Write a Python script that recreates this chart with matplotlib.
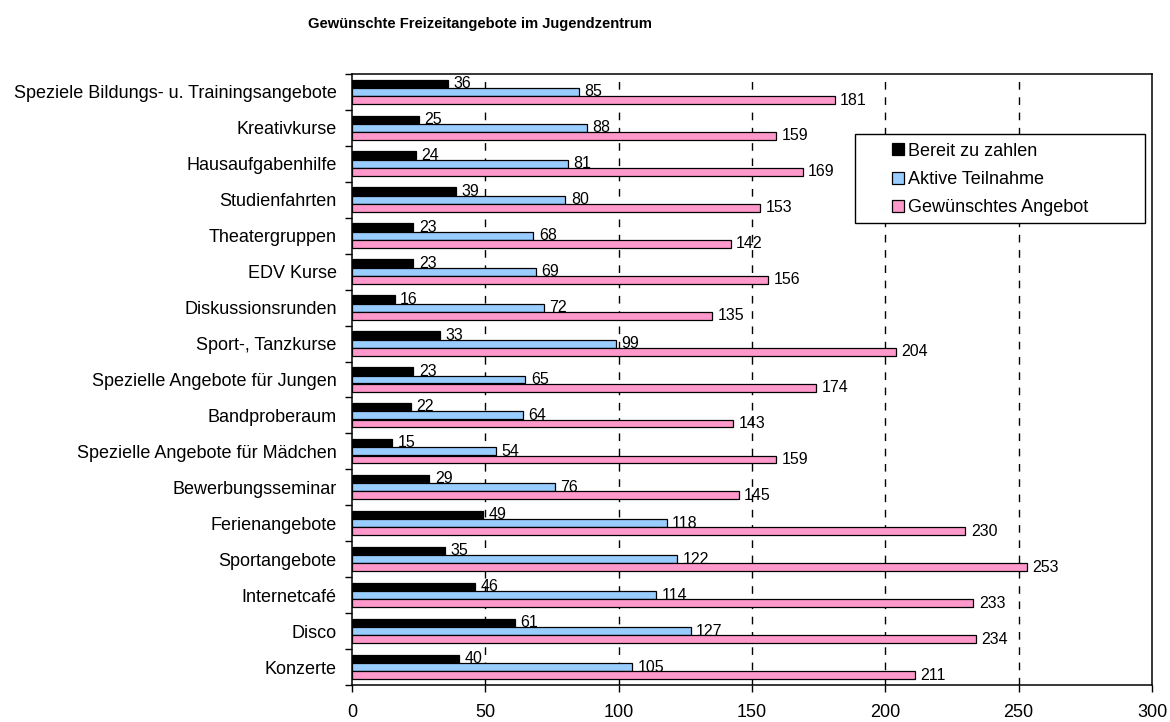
import matplotlib
matplotlib.use('Agg')
import matplotlib.pyplot as plt
import numpy as np
from matplotlib.patches import Rectangle

plt.rcParams['font.family'] = ['Liberation Sans', 'DejaVu Sans']

# Categories, listed top to bottom as in the chart
categories = [
    'Speziele Bildungs- u. Trainingsangebote',
    'Kreativkurse',
    'Hausaufgabenhilfe',
    'Studienfahrten',
    'Theatergruppen',
    'EDV Kurse',
    'Diskussionsrunden',
    'Sport-, Tanzkurse',
    'Spezielle Angebote für Jungen',
    'Bandproberaum',
    'Spezielle Angebote für Mädchen',
    'Bewerbungsseminar',
    'Ferienangebote',
    'Sportangebote',
    'Internetcafé',
    'Disco',
    'Konzerte',
]
bereit = [36, 25, 24, 39, 23, 23, 16, 33, 23, 22, 15, 29, 49, 35, 46, 61, 40]
aktiv = [85, 88, 81, 80, 68, 69, 72, 99, 65, 64, 54, 76, 118, 122, 114, 127, 105]
gewuenscht = [181, 159, 169, 153, 142, 156, 135, 204, 174, 143, 159, 145, 230, 253, 233, 234, 211]

series_names = ['Bereit zu zahlen', 'Aktive Teilnahme', 'Gewünschtes Angebot']
colors = ['#000000', '#99CCFF', '#FF99CC']
x_ticks = [0, 50, 100, 150, 200, 250, 300]

fig = plt.figure(figsize=(11.7, 7.22), dpi=100)
ax = fig.add_axes([352 / 1170, 1 - 685 / 722, 800 / 1170, 611 / 722])

n = len(categories)
y = np.arange(n)[::-1]  # first category at the top
bar_h = 0.22
offsets = [0.235, 0.0, -0.225]

for vals, name, col, off in zip([bereit, aktiv, gewuenscht], series_names, colors, offsets):
    bars = ax.barh(y + off, vals, height=bar_h, color=col, edgecolor='black',
                   linewidth=0.9, label=name, zorder=3)
    for b, v in zip(bars, vals):
        ax.annotate(str(v), (b.get_width(), b.get_y() + b.get_height() / 2),
                    xytext=(4, 0), textcoords='offset points',
                    ha='left', va='center', fontsize=11.5, zorder=4)

ax.set_xlim(0, 300)
ax.set_ylim(-0.5, n - 0.5)
ax.set_xticks(x_ticks)
ax.set_xticklabels([str(t) for t in x_ticks], fontsize=13)
ax.tick_params(axis='x', direction='out', length=5, width=1, pad=8.5)

# ticks between categories, labels at the centre
ax.set_yticks(np.arange(n + 1) - 0.5)
ax.set_yticklabels([])
ax.set_yticks(y, minor=True)
ax.set_yticklabels(categories, minor=True, fontsize=13)
ax.tick_params(axis='y', which='major', direction='out', length=5, width=1)
ax.tick_params(axis='y', which='minor', length=0, pad=11)

for g in x_ticks[1:-1]:
    ax.axvline(g, color='black', linewidth=1, dashes=(5.5, 5.5), zorder=1)

for s in ax.spines.values():
    s.set_linewidth(1.1)
    s.set_color('black')

# legend box drawn by hand so it can be wider than its contents
ax.add_patch(Rectangle(((855 - 352) / 800, (685 - 223) / 611), 290 / 800, 89 / 611,
                       transform=ax.transAxes, facecolor='white', edgecolor='black',
                       linewidth=1, zorder=5))
leg = ax.legend(loc='center left', bbox_to_anchor=((892 - 352) / 800, (685 - 179.5) / 611),
                frameon=False, fontsize=13, handlelength=0.65, handleheight=0.65,
                handletextpad=0.25, labelspacing=0.62, borderpad=0, borderaxespad=0)
leg.set_zorder(6)

fig.text(480 / 1170, 1 - 24 / 722, 'Gewünschte Freizeitangebote im Jugendzentrum',
         ha='center', va='center', fontsize=10.6, fontweight='bold')

plt.savefig('out.png', dpi=100)
